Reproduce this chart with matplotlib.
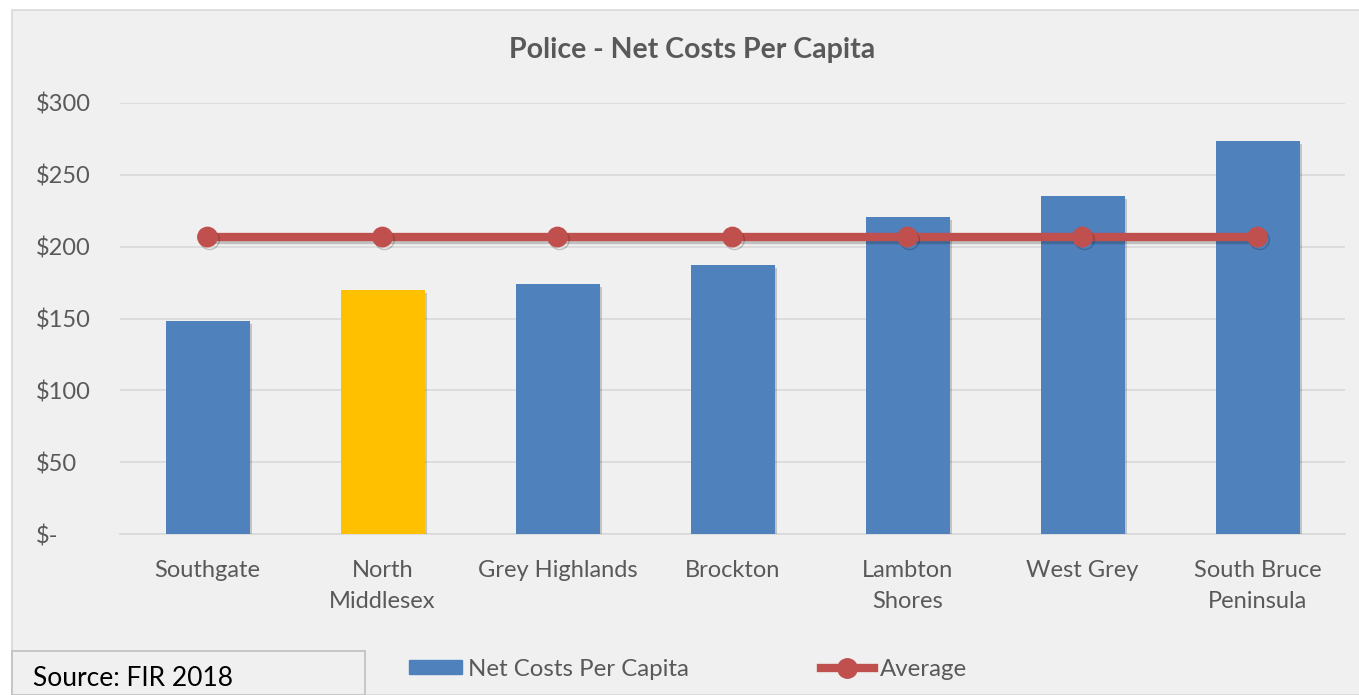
import matplotlib
matplotlib.use("Agg")
import matplotlib.pyplot as plt
from matplotlib.patches import Rectangle, Patch
from matplotlib.lines import Line2D
import matplotlib.patheffects as pe

plt.rcParams['font.family'] = ['Lato', 'DejaVu Sans']

categories = ["Southgate", "North\nMiddlesex", "Grey Highlands", "Brockton",
              "Lambton\nShores", "West Grey", "South Bruce\nPeninsula"]
net_costs = [148.3, 169.8, 174.0, 187.2, 220.6, 235.3, 273.5]
average = [206.7, 206.7, 206.7, 206.7, 206.7, 206.7, 206.7]
highlight = "North\nMiddlesex"
yticks = [0, 50, 100, 150, 200, 250, 300]
ytick_labels = ["$-", "$50", "$100", "$150", "$200", "$250", "$300"]

BLUE = "#4f81bd"
GOLD = "#ffc000"
RED = "#c0504d"
TXT = "#595959"
GRID = "#d9d9d9"
BG = "#f0f0f0"

W, H = 1359, 695
fig = plt.figure(figsize=(W / 100, H / 100), dpi=100, facecolor="white")

# chart area background
fig.patches.append(Rectangle((12 / W, 0), 1.0, 1 - 10 / H, transform=fig.transFigure,
                             facecolor=BG, edgecolor=GRID, linewidth=1.2, zorder=-5))

ax = fig.add_axes([120 / W, 1 - 534 / H, 1225 / W, 431 / H])
ax.set_facecolor("none")
ax.set_zorder(2)

x = list(range(len(categories)))
colors = [GOLD if c == highlight else BLUE for c in categories]
shadow = [pe.SimplePatchShadow(offset=(2, -2), shadow_rgbFace="#000000", alpha=0.18), pe.Normal()]
bars = ax.bar(x, net_costs, width=0.48, color=colors, zorder=3)
for b in bars:
    b.set_path_effects(shadow)

ax.plot(x, average, color=RED, linewidth=6, marker="o", markersize=14,
        markerfacecolor=RED, markeredgecolor=RED, zorder=4,
        path_effects=[pe.SimpleLineShadow(offset=(1.5, -2), alpha=0.2), pe.Normal()])

ax.set_xlim(-0.5, len(categories) - 0.5)
ax.set_ylim(0, 300)
ax.set_yticks(yticks)
ax.set_yticklabels(ytick_labels)
ax.set_xticks(x)
ax.set_xticklabels(categories, linespacing=1.62)
ax.tick_params(axis="y", length=0, pad=84 * 0.72, labelsize=17, labelcolor=TXT)
ax.tick_params(axis="x", length=0, pad=18.5, labelsize=17, labelcolor=TXT)
for lbl in ax.get_yticklabels():
    lbl.set_horizontalalignment("left")

ax.grid(axis="y", color=GRID, linewidth=1.2, zorder=0)
ax.set_axisbelow(True)
for s in ["top", "right", "left"]:
    ax.spines[s].set_visible(False)
ax.spines["bottom"].set_color(GRID)
ax.spines["bottom"].set_linewidth(1.2)

fig.text(692 / W, 1 - 50 / H, "Police - Net Costs Per Capita", ha="center", va="center",
         fontsize=20.5, fontweight="bold", color=TXT)

handles = [Patch(facecolor=BLUE, edgecolor=BLUE),
           Line2D([], [], color=RED, linewidth=6, marker="o", markersize=14)]
leg = fig.legend(handles, ["Net Costs Per Capita", "Average"], loc="center",
                 bbox_to_anchor=(688 / W, 1 - 669 / H), ncol=2, frameon=False,
                 fontsize=17.3, handlelength=2.2, handleheight=0.55, handletextpad=0.25,
                 columnspacing=5.5)
for t in leg.get_texts():
    t.set_color(TXT)

# source box
fig.patches.append(Rectangle((12 / W, 0), (365 - 12) / W, (695 - 651) / H,
                             transform=fig.transFigure, facecolor=BG,
                             edgecolor="#bfbfbf", linewidth=1.2, zorder=1))
fig.text(33 / W, 1 - 679 / H, "Source: FIR 2018", ha="left", va="center",
         fontsize=19, color="#000000")

fig.savefig("out.png", dpi=100, facecolor="white")
